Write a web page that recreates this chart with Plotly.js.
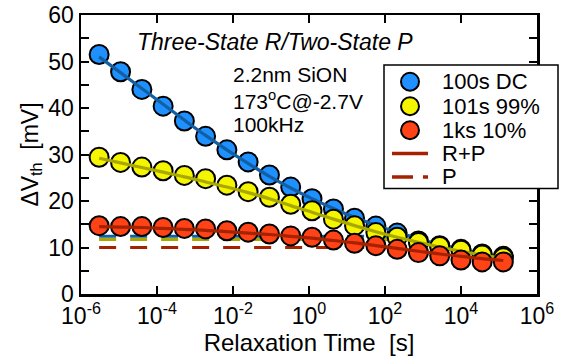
<!DOCTYPE html>
<html>
<head>
<meta charset="utf-8">
<script src="https://cdn.plot.ly/plotly-3.0.1.min.js"></script>
<style>html,body{margin:0;padding:0;background:#fff;}#chart{width:563px;height:358px;}</style>
</head>
<body>
<div id="chart"></div>
<script>
// Relaxation times [s]
const relaxTime = [3.0e-6, 1.1e-5, 4.0e-5, 1.45e-4, 5.25e-4, 1.9e-3, 6.9e-3, 2.5e-2, 9.1e-2, 0.33,
                   1.2, 4.4, 15.8, 57.5, 209, 759, 2754, 1.0e4, 3.6e4, 1.3e5];
// Measured dVth [mV]
const dc100 = [51.5, 47.8, 44.0, 40.4, 37.2, 33.9, 31.0, 28.4, 25.6, 23.0,
               20.5, 18.3, 16.3, 14.6, 13.1, 11.4, 10.4, 9.6, 8.6, 8.1];
const ac99 = [29.4, 28.3, 27.3, 26.5, 25.5, 24.8, 23.4, 22.0, 20.8, 19.3,
              17.9, 16.1, 14.7, 13.2, 12.2, 11.1, 10.2, 9.4, 8.4, 7.8];
const ac10 = [14.7, 14.5, 14.5, 14.3, 14.1, 14.0, 13.6, 13.3, 12.9, 12.5,
              12.2, 11.6, 10.9, 10.4, 9.6, 8.9, 8.2, 7.3, 6.9, 6.9];
// Model R+P fits [mV]
const fitDC = [51.0, 47.6, 44.2, 40.8, 37.4, 34.1, 31.0, 28.1, 25.3, 22.8,
               20.5, 18.4, 16.5, 14.8, 13.3, 11.9, 10.7, 9.6, 8.6, 7.7];
const fit99 = [29.2, 28.2, 27.2, 26.2, 25.2, 24.1, 23.0, 21.8, 20.5, 19.0,
               17.6, 16.1, 14.7, 13.4, 12.2, 11.1, 10.1, 9.2, 8.4, 7.6];
const fit10 = [14.5, 14.4, 14.3, 14.1, 13.9, 13.7, 13.4, 13.1, 12.8, 12.4,
               12.0, 11.5, 11.0, 10.4, 9.8, 9.2, 8.6, 8.1, 7.6, 7.2];
// Permanent component P [mV]
const pTime = [3.0e-6, 1.0e3];
const pDC = [12.4, 12.4];
const p99 = [11.7, 11.7];
const p10 = [10.0, 10.0];
const seriesNames = ['100s DC', '101s 99%', '1ks 10%', 'R+P', 'P'];
const xTickVals = [1e-6, 1e-4, 1e-2, 1, 1e2, 1e4, 1e6];
const xTickText = ['10<sup>-6</sup>', '10<sup>-4</sup>', '10<sup>-2</sup>', '10<sup>0</sup>', '10<sup>2</sup>', '10<sup>4</sup>', '10<sup>6</sup>'];

const cBlue = '#1e90ff', cYellow = '#f5f500', cRed = '#ff4316';
const lBlue = '#135fa3', lYellow = '#a8a800', lRed = '#a52200';
const dashPat = '17px,14px';

function dashed(y, col) {
  return {x: pTime, y: y, mode: 'lines', line: {color: col, width: 3, dash: dashPat}, hoverinfo: 'skip'};
}
function markers(y, col) {
  return {x: relaxTime, y: y, mode: 'markers',
          marker: {size: 19, color: col, line: {color: '#000', width: 2}}};
}
function fit(y, col) {
  return {x: relaxTime, y: y, mode: 'lines', line: {color: col, width: 3.2, shape: 'spline'}};
}

const traces = [
  dashed(pDC, lBlue), dashed(p99, lYellow), dashed(p10, lRed),
  markers(dc100, cBlue), fit(fitDC, lBlue),
  markers(ac99, cYellow), fit(fit99, lYellow),
  markers(ac10, cRed), fit(fit10, lRed)
];

// Legend drawn in paper coordinates (plot area: x 81..537 px, y 15..294 px)
const L = 81, W = 456, B = 294, H = 279;
const px = v => (v - L) / W;
const py = v => (B - v) / H;
const legRows = [81.7, 106.2, 130.2, 153.5, 177];
const legMarkers = [cBlue, cYellow, cRed];

const shapes = [
  {type: 'rect', xref: 'paper', yref: 'paper', x0: px(384), x1: px(558), y0: py(188.5), y1: py(65),
   fillcolor: '#fff', line: {color: '#000', width: 1.5}, layer: 'above'}
];
legMarkers.forEach((c, i) => shapes.push({
  type: 'circle', xref: 'paper', yref: 'paper', xsizemode: 'pixel', ysizemode: 'pixel',
  xanchor: px(410), yanchor: py(legRows[i]), x0: -9, x1: 9, y0: -9, y1: 9,
  fillcolor: c, line: {color: '#000', width: 2}, layer: 'above'}));
shapes.push({type: 'line', xref: 'paper', yref: 'paper', x0: px(392), x1: px(428),
             y0: py(legRows[3]), y1: py(legRows[3]), line: {color: lRed, width: 3.5}, layer: 'above'});
shapes.push({type: 'line', xref: 'paper', yref: 'paper', x0: px(392), x1: px(428),
             y0: py(legRows[4]), y1: py(legRows[4]), line: {color: lRed, width: 3.5, dash: '21px,10px'}, layer: 'above'});

const font = 'Liberation Sans, Arial, sans-serif';
const annotations = seriesNames.map((n, i) => ({
  xref: 'paper', yref: 'paper', x: px(440), y: py(legRows[i]), xanchor: 'left', yanchor: 'middle',
  text: n, showarrow: false, font: {family: font, size: 22, color: '#000'}}));
annotations.push(
  {xref: 'paper', yref: 'paper', x: px(275), y: py(42), xanchor: 'center', yanchor: 'middle',
   text: '<i>Three-State R/Two-State P</i>', showarrow: false, font: {family: font, size: 23}},
  {xref: 'paper', yref: 'paper', x: px(231), y: py(74.5), xanchor: 'left', yanchor: 'middle',
   text: '2.2nm SiON', showarrow: false, font: {family: font, size: 21}},
  {xref: 'paper', yref: 'paper', x: px(231), y: py(99.5), xanchor: 'left', yanchor: 'middle',
   text: '173<sup>o</sup>C@-2.7V', showarrow: false, font: {family: font, size: 21}},
  {xref: 'paper', yref: 'paper', x: px(231), y: py(124), xanchor: 'left', yanchor: 'middle',
   text: '100kHz', showarrow: false, font: {family: font, size: 21}}
);

const layout = {
  width: 563, height: 358,
  margin: {l: 81, r: 26, t: 15, b: 64},
  paper_bgcolor: '#fff', plot_bgcolor: '#fff',
  font: {family: font, size: 23, color: '#000'},
  showlegend: false,
  xaxis: {type: 'log', range: [-6, 6], tickvals: xTickVals, ticktext: xTickText,
          ticks: 'inside', ticklen: 8, tickwidth: 2, tickcolor: '#000',
          showline: true, linecolor: '#000', linewidth: 2.5, mirror: 'ticks',
          showgrid: false, zeroline: false,
          tickfont: {family: font, size: 23},
          title: {text: 'Relaxation Time\u00a0\u00a0[s]', font: {family: font, size: 24}, standoff: 2}},
  yaxis: {range: [0, 60], dtick: 10, tick0: 0,
          ticks: 'inside', ticklen: 8, tickwidth: 2, tickcolor: '#000',
          minor: {dtick: 5, ticks: 'inside', ticklen: 8, tickwidth: 2, tickcolor: '#000', showgrid: false},
          showline: true, linecolor: '#000', linewidth: 2.5, mirror: 'ticks',
          showgrid: false, zeroline: false,
          tickfont: {family: font, size: 23},
          title: {text: '\u0394V<sub>th</sub>\u00a0\u00a0[mV]', font: {family: font, size: 23}, standoff: 4}},
  shapes: shapes,
  annotations: annotations
};

Plotly.newPlot('chart', traces, layout, {displayModeBar: false, staticPlot: true});
</script>
</body>
</html>
